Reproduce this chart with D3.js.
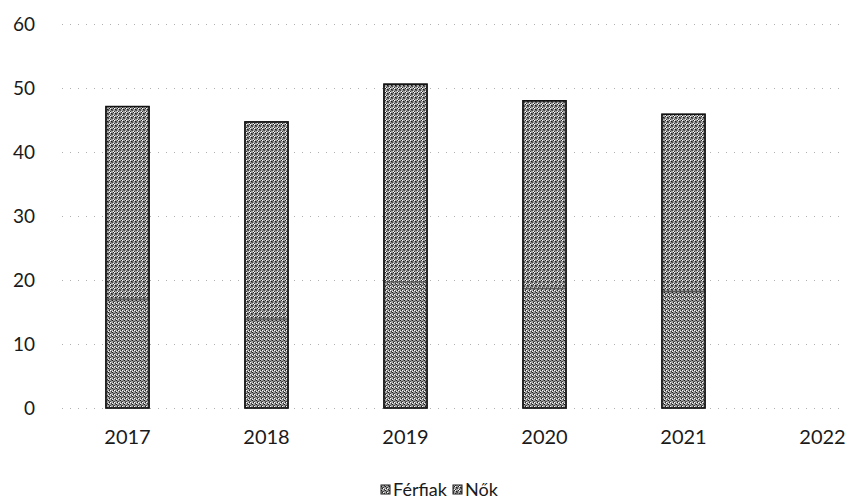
<!DOCTYPE html>
<html lang="hu">
<head>
<meta charset="UTF-8">
<title>Férfiak és nők</title>
<script src="https://d3js.org/d3.v7.min.js"></script>
<style>
  body { margin: 0; background: #fff; }
  text { font-family: Lato, "Open Sans", sans-serif; fill: #1a1a1a; }
</style>
</head>
<body>
<div id="chart"></div>
<script>
// data
const years = ["2017", "2018", "2019", "2020", "2021", "2022"];
const ferfiak = [17, 13.9, 19.7, 18.7, 18.2, 0];
const nok = [30.1, 30.8, 30.9, 29.3, 27.7, 0];
const yTicks = [0, 10, 20, 30, 40, 50, 60];
const seriesNames = ["Férfiak", "Nők"];

const width = 854, height = 504;
const margin = {top: 24, left: 58, bottom: 96};

const svg = d3.select("#chart")
  .append("svg")
    .attr("width", width)
    .attr("height", height);

// dithered grey fills, like the scanned original
const defs = svg.append("defs");
function dither(id, dots) {
  const p = defs.append("pattern")
    .attr("id", id)
    .attr("patternUnits", "userSpaceOnUse")
    .attr("width", 4).attr("height", 4);
  p.append("rect").attr("width", 4).attr("height", 4).attr("fill", "#a2a2a2");
  dots.forEach(d => p.append("rect")
    .attr("x", d[0]).attr("y", d[1]).attr("width", 1).attr("height", 1)
    .attr("fill", d[2]));
}
dither("pf", [[0,0,"#1a1a1a"],[2,1,"#444"],[1,2,"#222"],[3,3,"#333"],[0,3,"#f4f4f4"],[2,2,"#fff"],[3,0,"#666"],[1,1,"#555"]]);
dither("pn", [[1,0,"#222"],[3,1,"#1a1a1a"],[0,2,"#444"],[2,3,"#333"],[2,0,"#fff"],[1,3,"#f4f4f4"],[3,2,"#666"],[0,1,"#555"]]);

const x = d3.scaleBand()
  .domain(years)
  .range([margin.left, margin.left + 139 * 6])
  .paddingInner(0.69)
  .paddingOuter(0.345);

const y = d3.scaleLinear()
  .domain([0, 60])
  .range([408, margin.top]);

// gridlines
svg.append("g")
  .selectAll("line")
  .data(yTicks)
  .join("line")
    .attr("x1", margin.left + 4)
    .attr("x2", 840)
    .attr("y1", d => y(d) + 0.5)
    .attr("y2", d => y(d) + 0.5)
    .attr("stroke", "#b0b0b0")
    .attr("stroke-width", 1)
    .attr("stroke-dasharray", "1,7");

// y axis labels
const yAxis = svg.append("g")
  .attr("transform", `translate(${margin.left - 23},0)`)
  .call(d3.axisLeft(y).tickValues(yTicks).tickSize(0).tickPadding(0));
yAxis.select(".domain").remove();
yAxis.selectAll("text")
  .attr("font-size", 19)
  .attr("font-family", "Lato, sans-serif")
  .attr("fill", "#1a1a1a");

// x axis labels
const xAxis = svg.append("g")
  .attr("transform", "translate(0,430)")
  .call(d3.axisBottom(x).tickSize(0).tickPadding(0));
xAxis.select(".domain").remove();
xAxis.selectAll("text")
  .attr("font-size", 20)
  .attr("dy", "0.71em")
  .attr("font-family", "Lato, sans-serif")
  .attr("fill", "#1a1a1a");

// stacked bars
const rows = years.map((yr, i) => ({year: yr, "Férfiak": ferfiak[i], "Nők": nok[i]}));
const stacked = d3.stack().keys(seriesNames)(rows);
const fills = {"Férfiak": "url(#pf)", "Nők": "url(#pn)"};

svg.append("g")
  .selectAll("g")
  .data(stacked)
  .join("g")
    .attr("fill", d => fills[d.key])
  .selectAll("rect")
  .data(d => d.filter(s => s[1] > s[0]))
  .join("rect")
    .attr("x", d => x(d.data.year))
    .attr("y", d => y(d[1]))
    .attr("width", x.bandwidth())
    .attr("height", d => y(d[0]) - y(d[1]))
    .attr("stroke", "#555")
    .attr("stroke-width", 1);

// darker outline around each whole bar
svg.append("g")
  .selectAll("rect")
  .data(stacked[stacked.length - 1].filter(s => s[1] > 0))
  .join("rect")
    .attr("x", d => x(d.data.year))
    .attr("y", d => y(d[1]))
    .attr("width", x.bandwidth())
    .attr("height", d => y(0) - y(d[1]))
    .attr("fill", "none")
    .attr("stroke", "#111")
    .attr("stroke-width", 1.6);

// legend
const legend = svg.append("g").attr("transform", "translate(381,490)");
const items = [{name: "Férfiak", x: 0}, {name: "Nők", x: 72}];
const li = legend.selectAll("g")
  .data(items)
  .join("g")
    .attr("transform", d => `translate(${d.x},0)`);
li.append("rect")
  .attr("x", 0).attr("y", -5)
  .attr("width", 9).attr("height", 9)
  .attr("fill", d => fills[d.name])
  .attr("stroke", "#1a1a1a")
  .attr("stroke-width", 1);
li.append("text")
  .attr("x", 12)
  .attr("dy", "0.35em")
  .attr("font-size", 18)
  .text(d => d.name);
</script>
</body>
</html>
